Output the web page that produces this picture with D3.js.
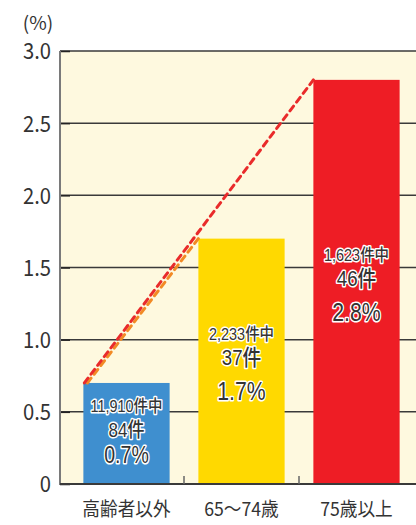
<!DOCTYPE html>
<html>
<head>
<meta charset="utf-8">
<script src="https://cdn.jsdelivr.net/npm/d3@7"></script>
<style>
  html, body { margin: 0; padding: 0; background: #fff; }
  svg { display: block; }
  text { font-family: "Noto Sans CJK JP", "Noto Sans", sans-serif; }
  text.val { font-family: "Liberation Sans", "Noto Sans CJK JP", sans-serif; }
</style>
</head>
<body>
<svg id="chart" width="416" height="525"></svg>
<script>
// Age groups and their accident rates
const categories = ["高齢者以外", "65～74歳", "75歳以上"];
const rates = [0.7, 1.7, 2.8];            // (%)
const totals = ["11,910", "2,233", "1,623"]; // 件中
const counts = [84, 37, 46];                // 件
const barColors = ["#3f8fcf", "#ffd900", "#ee1d25"];
const yTicks = [0, 0.5, 1.0, 1.5, 2.0, 2.5, 3.0];
const yTickLabels = ["0", "0.5", "1.0", "1.5", "2.0", "2.5", "3.0"];

const svg = d3.select("#chart");
const plot = { left: 60, right: 416, top: 51, bottom: 484 };

const y = d3.scaleLinear().domain([0, 3]).range([plot.bottom, plot.top]);
const x = d3.scaleBand().domain(categories).range([69, 414])
  .paddingInner(0.25).paddingOuter(0.125);

// plot background
svg.append("rect")
  .attr("x", plot.left).attr("y", plot.top)
  .attr("width", plot.right - plot.left).attr("height", plot.bottom - plot.top)
  .attr("fill", "#fef9df");

// horizontal gridlines
svg.append("g").selectAll("line").data(yTicks.filter(d => d > 0)).join("line")
  .attr("x1", plot.left).attr("x2", plot.right)
  .attr("y1", d => y(d)).attr("y2", d => y(d))
  .attr("stroke", "#3a3a3a").attr("stroke-width", 1.5);

// y axis: labels and short inner ticks
const yAxis = d3.axisLeft(y).tickValues(yTicks)
  .tickFormat((d, i) => yTickLabels[i]).tickSizeInner(-10).tickSizeOuter(0).tickPadding(19);
const gy = svg.append("g").attr("transform", `translate(${plot.left},0)`).call(yAxis);
gy.select(".domain").remove();
gy.selectAll(".tick line").attr("stroke", "#222").attr("stroke-width", 1.5);
gy.selectAll(".tick text")
  .attr("font-size", 22).attr("fill", "#333")
  .attr("font-family", "'Noto Sans CJK JP', sans-serif")
  .attr("dy", "0.36em")
  .attr("transform", "scale(0.92,1)")
  .attr("x", -9 / 0.92);

svg.append("text").attr("x", 38).attr("y", 30)
  .attr("text-anchor", "middle").attr("font-size", 19).attr("fill", "#333")
  .text("(%)");

// bars
svg.append("g").selectAll("rect").data(categories).join("rect")
  .attr("x", d => x(d)).attr("width", x.bandwidth())
  .attr("y", (d, i) => y(rates[i]))
  .attr("height", (d, i) => y(0) - y(rates[i]))
  .attr("fill", (d, i) => barColors[i]);

// trend lines joining bar tops
const x0 = c => x(c);
svg.append("line")
  .attr("x1", x0(categories[0]) + 4).attr("y1", y(rates[0]))
  .attr("x2", x0(categories[1])).attr("y2", y(rates[1]))
  .attr("stroke", "#f28a25").attr("stroke-width", 3)
  .attr("stroke-dasharray", "6 5").attr("stroke-linecap", "round");
svg.append("line")
  .attr("x1", x0(categories[0]) + 1).attr("y1", y(rates[0]))
  .attr("x2", x0(categories[2])).attr("y2", y(rates[2]))
  .attr("stroke", "#e92b2b").attr("stroke-width", 3)
  .attr("stroke-dasharray", "6 5").attr("stroke-linecap", "round");

// left axis line and baseline
svg.append("line").attr("x1", plot.left).attr("x2", plot.left)
  .attr("y1", plot.top).attr("y2", plot.bottom + 1)
  .attr("stroke", "#7a7a7a").attr("stroke-width", 2);
svg.append("line").attr("x1", plot.left).attr("x2", plot.right)
  .attr("y1", plot.bottom).attr("y2", plot.bottom)
  .attr("stroke", "#3a3a3a").attr("stroke-width", 2);

// x axis ticks between groups
const step = x.step();
svg.append("g").selectAll("line").data(categories.slice(1)).join("line")
  .attr("x1", d => x(d) - (step - x.bandwidth()) / 2)
  .attr("x2", d => x(d) - (step - x.bandwidth()) / 2)
  .attr("y1", plot.bottom).attr("y2", plot.bottom - 8)
  .attr("stroke", "#666").attr("stroke-width", 1.5);

// category labels
svg.append("g").selectAll("text").data(categories).join("text")
  .attr("transform", d => `translate(${x(d) + x.bandwidth() / 2},516) scale(0.93,1)`)
  .attr("text-anchor", "middle").attr("font-size", 19).attr("fill", "#333")
  .text(d => d);

// value labels: three lines per bar, centred vertically inside it
const labels = svg.append("g");
categories.forEach((c, i) => {
  const cx = x(c) + x.bandwidth() / 2;
  const top = y(rates[i]), mid = (top + y(0)) / 2;
  const tight = (y(0) - top) < 150;
  const g1 = 24, g2 = tight ? 25 : 34;
  const start = mid - (g1 + g2) / 2 + (tight ? -3 : 2);
  const lines = [
    { txt: totals[i] + "件中", size: 17, dy: 0 },
    { txt: counts[i] + "件", size: tight ? 20 : 22, dy: g1 + 1 },
    { txt: rates[i].toFixed(1) + "%", size: tight ? 23 : 25, dy: g1 + g2 + 2 }
  ];
  lines.forEach(l => {
    labels.append("text").attr("class", "val")
      .attr("transform", `translate(${cx},${start + 6 + l.dy}) scale(0.85,1)`)
      .attr("text-anchor", "middle")
      .attr("font-size", l.size).attr("font-weight", 500).attr("fill", "#333")
      .attr("stroke", "#fff").attr("stroke-width", 3)
      .attr("stroke-linejoin", "round").attr("paint-order", "stroke")
      .text(l.txt);
  });
});
</script>
</body>
</html>
